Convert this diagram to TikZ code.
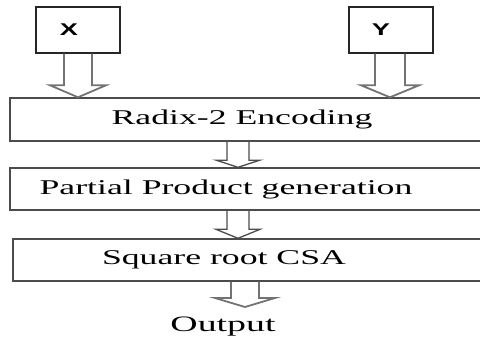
\documentclass[tikz,border=0pt]{standalone}
\usepackage{fontspec}
\setmainfont{Liberation Serif}
\newfontfamily\sansf{Liberation Sans}
\usetikzlibrary{calc}
\tikzset{
  inbox/.style={draw=black!85, line width=1.1pt, minimum width=84pt, minimum height=46pt, inner sep=0pt, font=\sansf\fontsize{17}{19}\selectfont},
  stage/.style={draw=black!70, line width=1.4pt, minimum width=480pt, inner sep=0pt, font=\fontsize{21}{24}\selectfont},
  blk/.style={draw=black!55, line width=1.8pt, line join=miter},
  blkthin/.style={draw=black!70, line width=1.3pt, line join=miter}
}
% #1 style, #2 x centre, #3 top anchor, #4 tip anchor, #5 half shaft, #6 half head, #7 head length
\newcommand\blkarrow[7]{%
  \draw[#1] let \p1=(#3), \p2=(#4) in
    ({#2-#5},\y1) -- ({#2-#5},{\y2+#7}) -- ({#2-#6},{\y2+#7}) -- (#2,\y2)
    -- ({#2+#6},{\y2+#7}) -- ({#2+#5},{\y2+#7}) -- ({#2+#5},\y1);}
\begin{document}
\begin{tikzpicture}[x=1pt,y=1pt]
\useasboundingbox (0,0) rectangle (480,343);
\node[inbox] (X) at (78,313) {\hspace*{-18pt}\scalebox{1.6}[1]{\bfseries X}};
\node[inbox] (Y) at (391,313) {\hspace*{-20pt}\scalebox{1.6}[1]{\bfseries Y}};
\node[stage, minimum height=43pt] (R) at (250,223.5) {\hspace*{-16pt}\scalebox{1.7}[1]{Radix-2 Encoding}};
\node[stage, minimum height=42pt] (P) at (250,154) {\hspace*{-48pt}\scalebox{1.7}[1]{Partial Product generation}};
\node[stage, minimum height=42pt] (S) at (253,83) {\hspace*{-58pt}\scalebox{1.7}[1]{Square root CSA}};
\node[inner sep=0pt, font=\fontsize{22}{24}\selectfont] (O) at (223,16) {\scalebox{1.72}[1]{Output}};
\coordinate (Otop) at (245,36);
\blkarrow{blk}{78}{X.south}{R.north}{14}{28}{12}
\blkarrow{blk}{390}{Y.south}{R.north}{15}{29}{12}
\blkarrow{blkthin}{238}{R.south}{P.north}{11}{21.5}{7}
\blkarrow{blkthin}{238}{P.south}{S.north}{11}{22}{9}
\blkarrow{blk}{245}{S.south}{Otop}{14}{30}{9}
\end{tikzpicture}
\end{document}
